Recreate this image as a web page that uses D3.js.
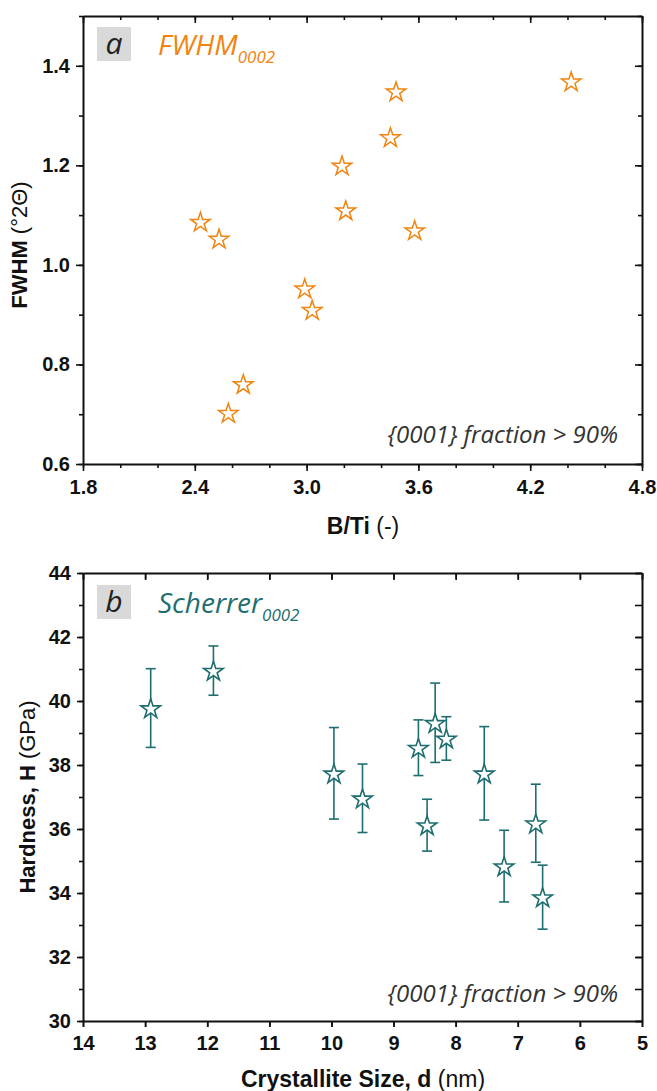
<!DOCTYPE html>
<html>
<head>
<meta charset="utf-8">
<script src="https://cdn.jsdelivr.net/npm/d3@7"></script>
<style>
body{margin:0;background:#fff;}
svg{display:block;}
.tick text{font-family:"Liberation Sans",Arial,sans-serif;font-weight:bold;font-size:20px;fill:#111;}
.domain{stroke:#111;stroke-width:2;}
.tick line{stroke:#111;stroke-width:1.6;}
</style>
</head>
<body>
<svg width="657" height="1091"></svg>
<script>
// panel a - FWHM vs B/Ti
var bti  = [2.43, 2.53, 2.58, 2.66, 2.99, 3.03, 3.19, 3.21, 3.45, 3.48, 3.58, 4.42];
var fwhm = [1.087, 1.053, 0.703, 0.761, 0.953, 0.910, 1.200, 1.110, 1.257, 1.349, 1.070, 1.369];
var btiTicks  = [1.8, 2.4, 3.0, 3.6, 4.2, 4.8];
var fwhmTicks = [0.6, 0.8, 1.0, 1.2, 1.4];

// panel b - hardness vs crystallite size
var size     = [12.91, 11.90, 9.96, 9.50, 8.60, 8.46, 8.33, 8.15, 7.54, 7.22, 6.71, 6.60];
var hardness = [39.78, 40.95, 37.74, 36.96, 38.54, 36.12, 39.32, 38.83, 37.74, 34.84, 36.18, 33.87];
var hardErr  = [1.23, 0.77, 1.43, 1.07, 0.87, 0.81, 1.24, 0.68, 1.46, 1.12, 1.22, 1.00];
var sizeTicks = [14, 13, 12, 11, 10, 9, 8, 7, 6, 5];
var hardTicks = [30, 32, 34, 36, 38, 40, 42, 44];

var orange = '#f0840f', teal = '#1e6e70';
var svg = d3.select('svg');
var star = d3.symbol().type(d3.symbolStar).size(118);

function range(a,b,s){var r=[];for(var v=a;v<=b+1e-9;v+=s){r.push(Math.round(v*1000)/1000)};return r;}

function frame(x,y,xt,xminor,yt,yminor,fmtx,fmty,maj,minl){
	var g = svg.append('g');
	var bottom = y.range()[0], top = y.range()[1], left = x.range()[0], right = x.range()[1];
	// minor ticks first
	g.append('g').attr('transform','translate(0,'+bottom+')').call(d3.axisBottom(x).tickValues(xminor).tickSize(minl.b).tickFormat('')).select('.domain').remove();
	g.append('g').attr('transform','translate('+left+',0)').call(d3.axisLeft(y).tickValues(yminor).tickSize(minl.l).tickFormat('')).select('.domain').remove();
	g.append('g').attr('transform','translate(0,'+top+')').call(d3.axisTop(x).tickValues(xminor).tickSize(-minl.t).tickFormat('')).select('.domain').remove();
	g.append('g').attr('transform','translate('+right+',0)').call(d3.axisRight(y).tickValues(yminor).tickSize(-minl.r).tickFormat('')).select('.domain').remove();
	// major
	g.append('g').attr('transform','translate(0,'+bottom+')').call(d3.axisBottom(x).tickValues(xt).tickSize(maj).tickSizeOuter(0).tickPadding(9).tickFormat(fmtx));
	g.append('g').attr('transform','translate('+left+',0)').call(d3.axisLeft(y).tickValues(yt).tickSize(maj).tickSizeOuter(0).tickPadding(6).tickFormat(fmty));
	g.append('g').attr('transform','translate(0,'+top+')').call(d3.axisTop(x).tickValues(xt).tickSize(-maj).tickSizeOuter(0).tickFormat(''));
	g.append('g').attr('transform','translate('+right+',0)').call(d3.axisRight(y).tickValues(yt).tickSize(-maj).tickSizeOuter(0).tickFormat(''));
	return g;
}

function tag(letter,bx,by,title,sub,col){
	svg.append('rect').attr('x',bx).attr('y',by).attr('width',34).attr('height',34).attr('fill','#d9d9d9');
	svg.append('text').attr('x',bx+17).attr('y',by+27).attr('text-anchor','middle')
		.attr('font-family','"Open Sans",sans-serif').attr('font-style','italic').attr('font-size',30).attr('fill','#222').text(letter);
	var t = svg.append('text').attr('x',bx+61).attr('y',by+28).attr('font-family','"Open Sans",sans-serif')
		.attr('font-style','italic').attr('font-size',28).attr('fill',col);
	t.append('tspan').text(title);
	t.append('tspan').attr('dy',8).attr('font-size',17).text(sub);
}

function note(xr,yb){
	svg.append('text').attr('x',xr).attr('y',yb).attr('text-anchor','end')
		.attr('font-family','"Open Sans",sans-serif').attr('font-style','italic').attr('font-size',24)
		.attr('fill','#333').text('{0001} fraction > 90%');
}

function ylabel(cx,cy,bold,rest){
	var t = svg.append('text').attr('transform','translate('+cx+','+cy+') rotate(-90)').attr('text-anchor','middle')
		.attr('font-family','"Liberation Sans",Arial,sans-serif').attr('font-size',22).attr('fill','#111');
	t.append('tspan').attr('font-weight','bold').text(bold);
	t.append('tspan').text(rest);
}
function xlabel(cx,cy,bold,rest){
	var t = svg.append('text').attr('x',cx).attr('y',cy).attr('text-anchor','middle')
		.attr('font-family','"Liberation Sans",Arial,sans-serif').attr('font-size',23).attr('fill','#111');
	t.append('tspan').attr('font-weight','bold').text(bold);
	t.append('tspan').text(rest);
}

// ---- panel a
var xa = d3.scaleLinear().domain([1.8,4.8]).range([83,642]);
var ya = d3.scaleLinear().domain([0.6,1.5]).range([464,16]);
frame(xa,ya,btiTicks,range(1.8,4.8,0.2),fwhmTicks,range(0.6,1.5,0.1),d3.format('.1f'),d3.format('.1f'),7,{b:4,l:4,t:4,r:4});
note(618,443);
tag('a',97,27,'FWHM','0002',orange);
ylabel(27,245,'FWHM',' (°2Θ)');
xlabel(363,534,'B/Ti',' (-)');

svg.append('g').selectAll('path').data(bti).enter().append('path')
	.attr('d',star).attr('transform',function(d,i){return 'translate('+xa(d)+','+(ya(fwhm[i])+1)+')'})
	.attr('fill','#fff').attr('stroke',orange).attr('stroke-width',1.5);

// ---- panel b
var xb = d3.scaleLinear().domain([14,5]).range([83,642]);
var yb = d3.scaleLinear().domain([30,44]).range([1021,573]);
frame(xb,yb,sizeTicks,sizeTicks,hardTicks,range(30,44,1),d3.format('d'),d3.format('d'),6,{b:6,l:4,t:7,r:7});
note(618,1002);
tag('b',97,585,'Scherrer','0002',teal);
ylabel(35,797,'Hardness, H',' (GPa)');
xlabel(363,1087,'Crystallite Size, d',' (nm)');

var pts = svg.append('g').selectAll('g').data(size).enter().append('g');
pts.append('line').attr('x1',function(d){return xb(d)}).attr('x2',function(d){return xb(d)})
	.attr('y1',function(d,i){return yb(hardness[i]-hardErr[i])}).attr('y2',function(d,i){return yb(hardness[i]+hardErr[i])})
	.attr('stroke',teal).attr('stroke-width',1.6);
[-1,1].forEach(function(s){
	pts.append('line').attr('x1',function(d){return xb(d)-5}).attr('x2',function(d){return xb(d)+5})
		.attr('y1',function(d,i){return yb(hardness[i]+s*hardErr[i])}).attr('y2',function(d,i){return yb(hardness[i]+s*hardErr[i])})
		.attr('stroke',teal).attr('stroke-width',1.6);
});
pts.append('path').attr('d',star).attr('transform',function(d,i){return 'translate('+xb(d)+','+(yb(hardness[i])+1)+')'})
	.attr('fill','#fff').attr('stroke',teal).attr('stroke-width',1.6);
</script>
</body>
</html>
